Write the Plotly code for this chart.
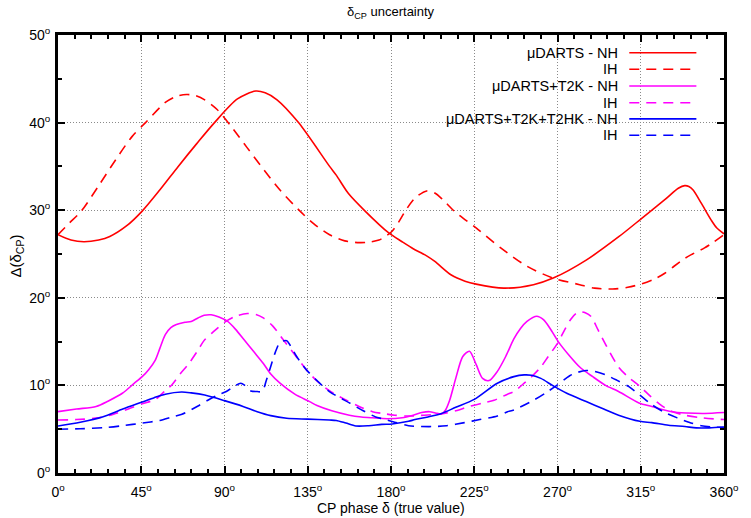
import plotly.graph_objects as go

# ---------------- data (degrees) ----------------
red_nh_x = [0, 7, 14, 22, 28, 37, 45.5, 55, 65, 75, 84.6, 97, 106.8, 112, 118.4, 130, 146.8, 150.4, 157,
            166, 178.8, 186, 192, 198.4, 203.7, 212.6, 220, 226, 241, 257, 267.7, 285.5, 303.3, 315.7,
            328, 335.3, 338.8, 341, 343.3, 347.7, 353, 356, 360]
red_nh_y = [27.2, 26.6, 26.4, 26.6, 27.0, 28.2, 29.9, 32.3, 35.0, 37.6, 40.0, 42.7, 43.6, 43.4, 42.6, 40.0,
            35.0, 34.0, 31.9, 29.9, 27.4, 26.4, 25.6, 24.9, 24.15, 22.6, 21.9, 21.56, 21.1, 21.5, 22.25,
            24.3, 27.0, 29.1, 31.2, 32.5, 32.8, 32.7, 32.3, 30.8, 28.9, 28.0, 27.3]

red_ih_x = [0, 6, 12.6, 22, 31.3, 40, 47.3, 58, 64, 69.5, 74, 79.3, 86, 93.5, 102, 111.3, 120, 130, 138,
            146.8, 155, 162.8, 168, 173.5, 177, 180.6, 184, 187.7, 193, 199.3, 203.7, 208, 214.4, 226,
            239.3, 253.5, 267.7, 282, 290, 299.8, 308, 315.7, 322, 328, 333, 338.8, 343, 349.5, 354, 360]
red_ih_y = [27.2, 28.5, 29.9, 32.8, 35.8, 38.4, 40.0, 42.3, 43.0, 43.2, 43.1, 42.6, 41.5, 39.6, 37.2, 34.6,
            32.3, 30.06, 28.5, 27.2, 26.5, 26.3, 26.35, 26.6, 27.0, 27.6, 28.6, 29.9, 31.4, 32.2, 31.96,
            31.2, 29.86, 27.97, 25.7, 23.6, 22.25, 21.5, 21.1, 21.0, 21.2, 21.6, 22.1, 22.8, 23.6, 24.5,
            25.0, 25.7, 26.3, 27.2]

mag_nh_x = [0, 10, 20.6, 27, 34.8, 41, 45.5, 49, 52.6, 55, 58, 61, 64, 68.6, 72, 75.7, 79, 82.8, 87, 91.7,
            96, 100.6, 106, 111, 115, 120, 128, 136, 140, 148, 157.5, 164, 170, 178, 186, 192, 196.6, 201,
            204, 207.3, 209.5, 211.7, 215, 218.8, 222.4, 226, 229.5, 233, 237.5, 242, 246.4, 250, 253.5,
            258.8, 262.4, 266, 270.4, 276, 282, 289, 296, 303, 314, 321, 331.7, 340, 349.5, 360]
mag_nh_y = [7.0, 7.3, 7.6, 8.2, 9.1, 10.2, 11.0, 11.8, 12.9, 14.2, 15.8, 16.6, 16.95, 17.2, 17.3, 17.7, 18.0,
            18.06, 17.8, 17.3, 16.4, 15.2, 13.8, 12.5, 11.3, 10.25, 9.0, 8.15, 7.7, 7.1, 6.6, 6.4, 6.3, 6.2,
            6.3, 6.6, 6.9, 7.0, 6.85, 6.74, 7.2, 8.3, 10.8, 13.3, 13.9, 12.4, 10.8, 10.55, 11.6, 13.3, 15.3,
            16.5, 17.3, 17.9, 17.5, 16.5, 15.0, 13.5, 12.1, 11.0, 10.0, 9.3, 8.0, 7.6, 7.0, 6.85, 6.8, 6.9]

mag_ih_x = [0, 10, 22, 30, 38, 45.5, 52.6, 58, 61.5, 66, 70.4, 75, 79.3, 85, 90, 96, 102.4, 107, 111, 116,
            121.8, 128, 134.2, 140, 146.7, 155, 162.7, 170, 175.3, 182, 189, 198, 207, 215, 223, 230, 235.7,
            243, 246.4, 252, 256, 261, 265, 270, 274, 277, 280, 282.5, 285, 288, 292, 296.7, 303, 308,
            314.5, 320, 325, 331, 338.8, 348, 360]
mag_ih_y = [6.05, 6.1, 6.3, 6.7, 7.3, 7.9, 8.4, 9.4, 10.05, 11.3, 12.4, 13.8, 15.2, 16.3, 17.2, 17.9, 18.2,
            18.1, 17.7, 16.8, 15.2, 13.5, 11.8, 10.5, 9.4, 8.4, 7.6, 7.0, 6.8, 6.6, 6.5, 6.6, 6.75, 7.1,
            7.65, 8.0, 8.3, 9.0, 9.3, 10.25, 11.0, 12.1, 13.3, 14.8, 16.4, 17.5, 18.2, 18.4, 18.3, 17.9,
            16.3, 14.4, 12.1, 11.0, 9.9, 8.8, 7.9, 7.1, 6.6, 6.3, 6.1]

blue_nh_x = [0, 12, 24, 35, 45.5, 52, 58, 66.8, 72, 79.3, 90, 100, 107.7, 115, 123.6, 135, 146.7, 150.4,
             155.6, 161, 168, 175, 180.6, 189.5, 193, 200, 207.3, 215, 225, 237.5, 246.4, 252, 256, 261,
             267.7, 275, 285.5, 295, 303, 314.5, 321, 330, 338.8, 345, 352, 360]
blue_nh_y = [5.37, 5.8, 6.4, 7.3, 8.1, 8.6, 9.0, 9.25, 9.15, 8.9, 8.26, 7.6, 7.0, 6.55, 6.25, 6.15, 6.05, 6.0,
             5.7, 5.37, 5.4, 5.55, 5.6, 5.9, 6.1, 6.4, 6.8, 7.5, 8.4, 10.25, 11.0, 11.2, 11.15, 10.8, 9.94,
             9.1, 8.15, 7.3, 6.6, 5.9, 5.75, 5.45, 5.3, 5.15, 5.15, 5.25]

blue_ih_x = [0, 12, 26, 35, 45.5, 55, 61.5, 67, 75.7, 81, 86.4, 91, 95.3, 98.8, 101, 104.2, 107.7, 110.4,
             112.5, 114.9, 117.5, 120, 123.6, 126, 129, 134.2, 139.7, 146.7, 157.5, 165, 171.7, 175.3, 182,
             189.5, 202, 210, 219.7, 228, 237.5, 243, 246.4, 257, 264, 270, 276.6, 281, 285.5, 290, 296,
             302, 308.6, 314.5, 321, 328, 335.3, 341, 347.7, 354, 360]
blue_ih_y = [5.0, 5.05, 5.2, 5.4, 5.7, 6.0, 6.4, 6.7, 7.65, 8.3, 8.9, 9.3, 9.9, 10.25, 10.0, 9.37, 9.3, 9.3,
             10.5, 12.1, 13.8, 14.9, 15.1, 14.4, 13.3, 11.8, 10.6, 9.3, 8.0, 7.1, 6.4, 6.2, 5.8, 5.4, 5.3,
             5.4, 5.75, 6.1, 6.5, 7.0, 7.2, 8.3, 9.2, 10.05, 11.1, 11.5, 11.7, 11.6, 11.2, 10.6, 9.86, 8.9,
             7.8, 6.9, 6.25, 5.8, 5.4, 5.25, 5.2]

legend_labels = ["\u03bcDARTS - NH", "IH", "\u03bcDARTS+T2K - NH", "IH", "\u03bcDARTS+T2K+T2HK - NH", "IH"]
x_ticks = [0, 45, 90, 135, 180, 225, 270, 315, 360]
y_ticks = [0, 10, 20, 30, 40, 50]

RED, MAG, BLUE = "#ff0000", "#ff00ff", "#0000ff"
DASH = "10px,7px"
series = [
    (red_nh_x, red_nh_y, RED, "solid"),
    (red_ih_x, red_ih_y, RED, DASH),
    (mag_nh_x, mag_nh_y, MAG, "solid"),
    (mag_ih_x, mag_ih_y, MAG, DASH),
    (blue_nh_x, blue_nh_y, BLUE, "solid"),
    (blue_ih_x, blue_ih_y, BLUE, DASH),
]

FONT = "Liberation Sans, Arial, sans-serif"
fig = go.Figure()
for (xs, ys, col, dash), name in zip(series, legend_labels):
    fig.add_trace(go.Scatter(x=xs, y=ys, mode="lines", name=name, showlegend=False,
                             line=dict(color=col, width=1.6, dash=dash, shape="spline", smoothing=0.8),
                             hoverinfo="skip"))

# plot-area geometry (pixels)
L, R, T, B = 58, 18, 35, 45
W, H = 751, 518
pw, ph = W - L - R, H - T - B


def px2x(p):
    return (p - L) / pw


def py2y(p):
    return (H - B - p) / ph


shapes = [dict(type="rect", xref="paper", yref="paper", x0=px2x(450), x1=px2x(713), y0=py2y(145), y1=1.0,
               fillcolor="white", line=dict(width=0), layer="between")]
annotations = []
row_py = [52.7, 69.3, 86.0, 102.7, 118.9, 135.3]
for (xs, ys, col, dash), label, rp in zip(series, legend_labels, row_py):
    annotations.append(dict(xref="paper", yref="paper", x=px2x(628), y=py2y(rp), text=label, showarrow=False,
                            xanchor="right", yanchor="middle", font=dict(size=14.5, color="black", family=FONT)))
    shapes.append(dict(type="line", xref="paper", yref="paper", x0=px2x(637), x1=px2x(705),
                       y0=py2y(rp), y1=py2y(rp), line=dict(color=col, width=1.6, dash=dash), layer="above"))

annotations.append(dict(xref="paper", yref="paper", x=px2x(396), y=py2y(13), text="\u03b4<sub>CP</sub> uncertainty",
                        showarrow=False, xanchor="center", yanchor="middle",
                        font=dict(size=13, color="black", family=FONT)))
annotations.append(dict(xref="paper", yref="paper", x=px2x(395), y=py2y(508),
                        text="CP phase \u03b4 (true value)", showarrow=False, xanchor="center", yanchor="middle",
                        font=dict(size=14, color="black", family=FONT)))
annotations.append(dict(xref="paper", yref="paper", x=px2x(16), y=py2y(256), text="\u0394(\u03b4<sub>CP</sub>)",
                        showarrow=False, xanchor="center", yanchor="middle", textangle=-90,
                        font=dict(size=15, color="black", family=FONT)))

axis_common = dict(showline=True, linecolor="black", linewidth=3, mirror="ticks", ticks="inside", ticklen=7,
                   tickwidth=2, tickcolor="black", showgrid=True, gridcolor="#8a8a8a", gridwidth=1,
                   griddash="1px,2px", zeroline=False, tickfont=dict(size=14, color="black", family=FONT))

fig.update_xaxes(range=[0, 360], tickvals=x_ticks, ticktext=[f"{v}<sup>o</sup>" for v in x_ticks],
                 minor=dict(dtick=9, ticks="inside", ticklen=4, tickwidth=2, tickcolor="black", showgrid=False),
                 ticklabelstandoff=4, **axis_common)
fig.update_yaxes(range=[0, 50], tickvals=y_ticks, ticktext=[f"{v}<sup>o</sup>" for v in y_ticks],
                 minor=dict(dtick=5, ticks="inside", ticklen=4, tickwidth=2, tickcolor="black", showgrid=False),
                 ticklabelstandoff=2, **axis_common)

fig.update_layout(width=W, height=H, margin=dict(l=L, r=R, t=T, b=B), plot_bgcolor="white",
                  paper_bgcolor="white", shapes=shapes, annotations=annotations, showlegend=False,
                  font=dict(family=FONT, color="black"))

fig.write_html("out.html", config={"displayModeBar": False},
               post_script="document.body.style.margin='0';document.body.style.overflow='hidden';")
